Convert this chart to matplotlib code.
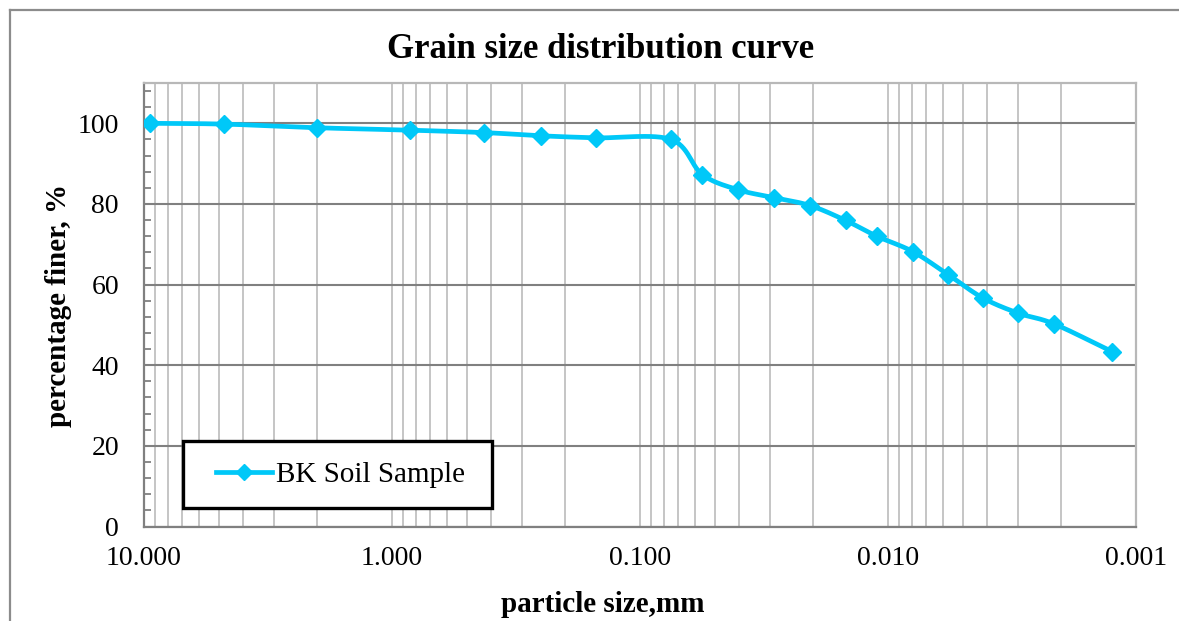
import numpy as np
import matplotlib
matplotlib.use("Agg")
import matplotlib.pyplot as plt
from matplotlib.patches import Rectangle
from matplotlib.lines import Line2D
from matplotlib.ticker import LogLocator, FixedLocator, MultipleLocator, FuncFormatter, NullFormatter

# ---- data ----
particle_size_mm = [9.5, 4.75, 2.0, 0.85, 0.425, 0.25, 0.15, 0.075, 0.0561, 0.0401,
                    0.0289, 0.0206, 0.0148, 0.0111, 0.00795, 0.00573, 0.00415,
                    0.00298, 0.00215, 0.00125]
percent_finer = [100, 99.8, 98.9, 98.3, 97.7, 96.9, 96.4, 96.0, 87.3, 83.5,
                 81.6, 79.6, 75.9, 72.0, 68.2, 62.5, 56.7, 52.9, 50.3, 43.4]
series_name = "BK Soil Sample"
x_ticks = [10, 1, 0.1, 0.01, 0.001]
y_ticks = [0, 20, 40, 60, 80, 100]
title = "Grain size distribution curve"
xlabel = "particle size,mm"
ylabel = "percentage finer, %"

plt.rcParams['font.family'] = ['Liberation Serif', 'DejaVu Serif']
W, H = 1179, 621
fig = plt.figure(figsize=(W / 100, H / 100), dpi=100)

ax_l, ax_r, ax_t, ax_b = 144, 1136, 83, 526.5
ax = fig.add_axes([ax_l / W, 1 - ax_b / H, (ax_r - ax_l) / W, (ax_b - ax_t) / H])
ax.set_xscale('log')
ax.set_xlim(10, 0.001)
ax.set_ylim(0, 110)

cyan = '#00C8F8'

# smooth curve (Catmull-Rom in display-like space), like Excel "smoothed line"
u = -np.log10(np.array(particle_size_mm)) * 248.0
v = np.array(percent_finer) * 4.035
P = np.column_stack([u, v])
Pext = np.vstack([P[0] - (P[1] - P[0]), P, P[-1] + (P[-1] - P[-2])])
pts = []
for i in range(1, len(Pext) - 2):
    p0, p1, p2, p3 = Pext[i - 1], Pext[i], Pext[i + 1], Pext[i + 2]
    c1 = p1 + (p2 - p0) / 6.0
    c2 = p2 - (p3 - p1) / 6.0
    t = np.linspace(0, 1, 30)[:, None]
    seg = ((1 - t) ** 3) * p1 + 3 * ((1 - t) ** 2) * t * c1 + 3 * (1 - t) * t ** 2 * c2 + t ** 3 * p2
    pts.append(seg)
curve = np.vstack(pts)
cx = 10 ** (-curve[:, 0] / 248.0)
cy = curve[:, 1] / 4.035
ax.plot(cx, cy, color=cyan, lw=3.4, zorder=3, solid_capstyle='round')
ax.plot(particle_size_mm, percent_finer, linestyle='none', marker='D', ms=9.5,
        color=cyan, zorder=4)

# grid
ax.xaxis.set_major_locator(FixedLocator(x_ticks))
ax.xaxis.set_minor_locator(LogLocator(base=10, subs=np.arange(2, 10)))
ax.xaxis.set_major_formatter(FuncFormatter(lambda val, pos: f"{val:.3f}"))
ax.xaxis.set_minor_formatter(NullFormatter())
ax.yaxis.set_major_locator(FixedLocator(y_ticks))
ax.yaxis.set_minor_locator(MultipleLocator(4))
ax.grid(True, which='both', axis='x', color='#C0C0C0', lw=1.3, zorder=1)
ax.grid(True, which='major', axis='y', color='#808080', lw=1.5, zorder=1)
ax.set_axisbelow(True)

ax.tick_params(axis='x', which='both', length=0, labelsize=20, pad=14)
ax.tick_params(axis='y', which='major', length=0, labelsize=20, pad=18)
ax.tick_params(axis='y', which='minor', direction='in', length=5, width=1.3, color='#808080')

for s in ['left', 'bottom']:
    ax.spines[s].set_color('#808080')
    ax.spines[s].set_linewidth(1.6)
for s in ['top', 'right']:
    ax.spines[s].set_color('#B8B8B8')
    ax.spines[s].set_linewidth(1.6)

# legend box
bx0, bx1, by0, by1 = 183, 492, 441, 508
tr = ax.transAxes
rect = Rectangle(((bx0 - ax_l) / (ax_r - ax_l), (ax_b - by1) / (ax_b - ax_t)),
                 (bx1 - bx0) / (ax_r - ax_l), (by1 - by0) / (ax_b - ax_t),
                 transform=tr, facecolor='white', edgecolor='black', lw=2.4, zorder=6)
ax.add_patch(rect)
handle = Line2D([], [], color=cyan, lw=3.4, marker='D', ms=8.5)
leg = ax.legend([handle], [series_name], loc='center',
                bbox_to_anchor=(((bx0 + bx1) / 2 + 3 - ax_l) / (ax_r - ax_l),
                                (ax_b - (by0 + by1) / 2) / (ax_b - ax_t)),
                frameon=False, fontsize=21, handlelength=1.9, handletextpad=0.15)
leg.set_zorder(7)

# texts
fig.text(601 / W, 1 - 50 / H, title, ha='center', va='center', fontsize=25, fontweight='bold')
fig.text(603 / W, 1 - 604 / H, xlabel, ha='center', va='center', fontsize=21, fontweight='bold')
fig.text(58 / W, 1 - 305 / H, ylabel, ha='center', va='center', fontsize=21,
         fontweight='bold', rotation=90)

# outer chart-area border (left and top visible)
fig.add_artist(Line2D([10 / W, 10 / W], [0, 1 - 10 / H], transform=fig.transFigure,
                      color='#8C8C8C', lw=1.6))
fig.add_artist(Line2D([10 / W, 1], [1 - 10 / H, 1 - 10 / H], transform=fig.transFigure,
                      color='#8C8C8C', lw=1.6))

fig.savefig('out.png', dpi=100, facecolor='white')
